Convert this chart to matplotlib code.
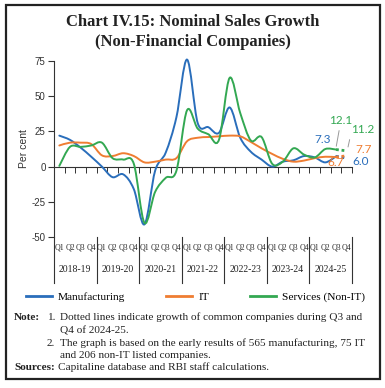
import numpy as np
import matplotlib
matplotlib.use('Agg')
import matplotlib.pyplot as plt
from matplotlib.path import Path
from matplotlib.patches import PathPatch, Rectangle
from matplotlib.lines import Line2D
import matplotlib.transforms as mtransforms

# ---------------- data ----------------
years = ['2018-19', '2019-20', '2020-21', '2021-22', '2022-23', '2023-24', '2024-25']
quarters = ['Q1', 'Q2', 'Q3', 'Q4']

# 2018-19 Q1 ... 2024-25 Q3 (per cent)
manufacturing = [22, 19, 13.5, 7, 0, -7.5, -5.5, -16, -41, -3, 10, 35, 76, 31, 28, 24, 42, 20.5, 10.5,
                 5, 0, 3.5, 4.5, 7.5, 6.5, 3, 7.3]
it_sales = [15, 17, 17, 16, 8, 7.5, 9.5, 7.5, 3, 3.5, 5, 6, 18, 20.5, 21, 21.5, 22, 21.5, 17.5,
            13, 9, 5.5, 3.5, 4.3, 6, 7, 6.7]
services = [0.5, 14, 14, 15, 17, 6, 5, 2, -40, -18, -8, -3, 40, 27, 23, 19, 63, 38, 18.5,
            21, 2, 3.5, 13, 8.5, 6.5, 12.5, 12.1]

# common companies, Q3 and Q4 of 2024-25 (dotted)
manufacturing_common = [7.3, 6.0]
it_common = [6.7, 7.7]
services_common = [12.1, 11.2]

labels = ['Manufacturing', 'IT', 'Services (Non-IT)']
colors = ['#2a6ebb', '#ef7d32', '#33a852']

# ---------------- figure ----------------
W, H = 385, 388
fig = plt.figure(figsize=(W / 100, H / 100), dpi=100)

def fx(px):
    return px / W

def fy(py):
    return 1 - py / H

# outer frame
fig.patches.append(Rectangle((fx(6), fy(379)), fx(380) - fx(6), fy(5) - fy(379),
                             transform=fig.transFigure, fill=False, lw=1.6, edgecolor='#222222'))

serif = 'Liberation Serif'
sans = 'Liberation Sans'

fig.text(0.5, fy(22), 'Chart IV.15: Nominal Sales Growth', ha='center', va='center',
         fontsize=12, fontweight='bold', family=serif, color='#222222')
fig.text(0.5, fy(42), '(Non-Financial Companies)', ha='center', va='center',
         fontsize=12, fontweight='bold', family=serif, color='#222222')

ax_left, ax_right, ax_top, ax_bot = 54, 352, 61, 237
ax = fig.add_axes([fx(ax_left), fy(ax_bot), fx(ax_right) - fx(ax_left), fy(ax_top) - fy(ax_bot)])
n = len(years) * len(quarters)
ax.set_xlim(-0.5, n - 0.5)
ax.set_ylim(-50, 75)
ax.patch.set_alpha(0)

for s in ['top', 'right']:
    ax.spines[s].set_visible(False)
ax.spines['bottom'].set_position(('data', 0))
ax.spines['bottom'].set_color('#333333')
ax.spines['bottom'].set_linewidth(0.8)
ax.spines['left'].set_color('#333333')
ax.spines['left'].set_linewidth(0.8)

ax.set_yticks([-50, -25, 0, 25, 50, 75])
ax.set_yticklabels(['-50', '-25', '0', '25', '50', '75'], family=sans, fontsize=7, color='#333333')
ax.tick_params(axis='y', length=4, width=0.8, pad=2, color='#333333')
ax.set_xticks(np.arange(-0.5, n, 1.0))
ax.tick_params(axis='x', length=4, width=0.7, direction='out', labelbottom=False, color='#333333')
ax.set_ylabel('Per cent', family=sans, fontsize=7.5, color='#333333', labelpad=2)


def smooth_path(xs, ys):
    pts = np.column_stack([xs, ys]).astype(float)
    m = len(pts)
    verts = [pts[0]]
    codes = [Path.MOVETO]
    for i in range(m - 1):
        p0 = pts[i - 1] if i > 0 else pts[i]
        p1 = pts[i]
        p2 = pts[i + 1]
        p3 = pts[i + 2] if i + 2 < m else pts[i + 1]
        c1 = p1 + (p2 - p0) / 6.0
        c2 = p2 - (p3 - p1) / 6.0
        verts += [c1, c2, p2]
        codes += [Path.CURVE4] * 3
    return Path(verts, codes)


series = [manufacturing, it_sales, services]
commons = [manufacturing_common, it_common, services_common]
for vals, com, c in zip(series, commons, colors):
    xs = np.arange(len(vals))
    ax.add_patch(PathPatch(smooth_path(xs, vals), fill=False, edgecolor=c, lw=1.4,
                           transform=ax.transData, clip_on=False, capstyle='round', zorder=3))
    xc = np.arange(len(vals) - 1, len(vals) - 1 + len(com))
    ax.plot(xc, com, color=c, lw=2.0, ls=(0, (1, 1)), clip_on=False, zorder=3)

# data labels
lab_font = dict(family='Lato', fontsize=8.5)
ax.text(24.7, 18.9, '7.3', color=colors[0], ha='center', va='center', **lab_font)
ax.text(28.3, 3.3, '6.0', color=colors[0], ha='center', va='center', **lab_font)
ax.text(26.0, 2.6, '6.7', color=colors[1], ha='center', va='center', **lab_font)
ax.text(28.6, 11.8, '7.7', color=colors[1], ha='center', va='center', **lab_font)
ax.annotate('12.1', xy=(26, 13.5), xytext=(26.45, 32.4), color=colors[2], ha='center', va='center',
            annotation_clip=False,
            arrowprops=dict(arrowstyle='-', color='#999999', lw=0.7, shrinkA=1, shrinkB=1), **lab_font)
ax.annotate('11.2', xy=(27.1, 13.0), xytext=(28.5, 26.0), color=colors[2], ha='center', va='center',
            annotation_clip=False,
            arrowprops=dict(arrowstyle='-', color='#999999', lw=0.7, shrinkA=1, shrinkB=1,
                            relpos=(0.0, 0.2)), **lab_font)

# category axis below
trans = mtransforms.blended_transform_factory(ax.transData, ax.transAxes)
hpx = ax_bot - ax_top
def ay(py):
    return (ax_bot - py) / hpx

for i in range(n):
    ax.text(i, ay(247), quarters[i % 4], transform=trans, ha='center', va='center',
            family=serif, fontsize=5.6, color='#222222')
for j, yr in enumerate(years):
    ax.text(j * 4 + 1.5, ay(269), yr, transform=trans, ha='center', va='center',
            family=serif, fontsize=7, color='#222222')
for j in range(len(years) + 1):
    ax.plot([j * 4 - 0.5, j * 4 - 0.5], [0, ay(283)], transform=trans, color='#333333',
            lw=0.8, clip_on=False)

# legend
handles = [Line2D([], [], color=c, lw=2.0) for c in colors]
fig.legend(handles, labels, loc='center left', bbox_to_anchor=(fx(26), fy(297)), ncol=3,
           frameon=False, prop={'family': serif, 'size': 8.2}, handlelength=2.3,
           handletextpad=0.5, columnspacing=3.6, borderaxespad=0, borderpad=0)

# notes
nf = dict(family=serif, fontsize=8.1, color='#222222', va='center')
fig.text(fx(14), fy(317), 'Note:', fontweight='bold', **nf)
fig.text(fx(47), fy(317), '1.', **nf)
fig.text(fx(60), fy(317), 'Dotted lines indicate growth of common companies during Q3 and', **nf)
fig.text(fx(60), fy(331), 'Q4 of 2024-25.', **nf)
fig.text(fx(47), fy(343), '2.', **nf)
fig.text(fx(60), fy(343), 'The graph is based on the early results of 565 manufacturing, 75 IT', **nf)
fig.text(fx(60), fy(355), 'and 206 non-IT listed companies.', **nf)
fig.text(fx(14), fy(367), 'Sources:', fontweight='bold', **nf)
fig.text(fx(58), fy(367), 'Capitaline database and RBI staff calculations.', **nf)

fig.savefig('out.png', dpi=100)
